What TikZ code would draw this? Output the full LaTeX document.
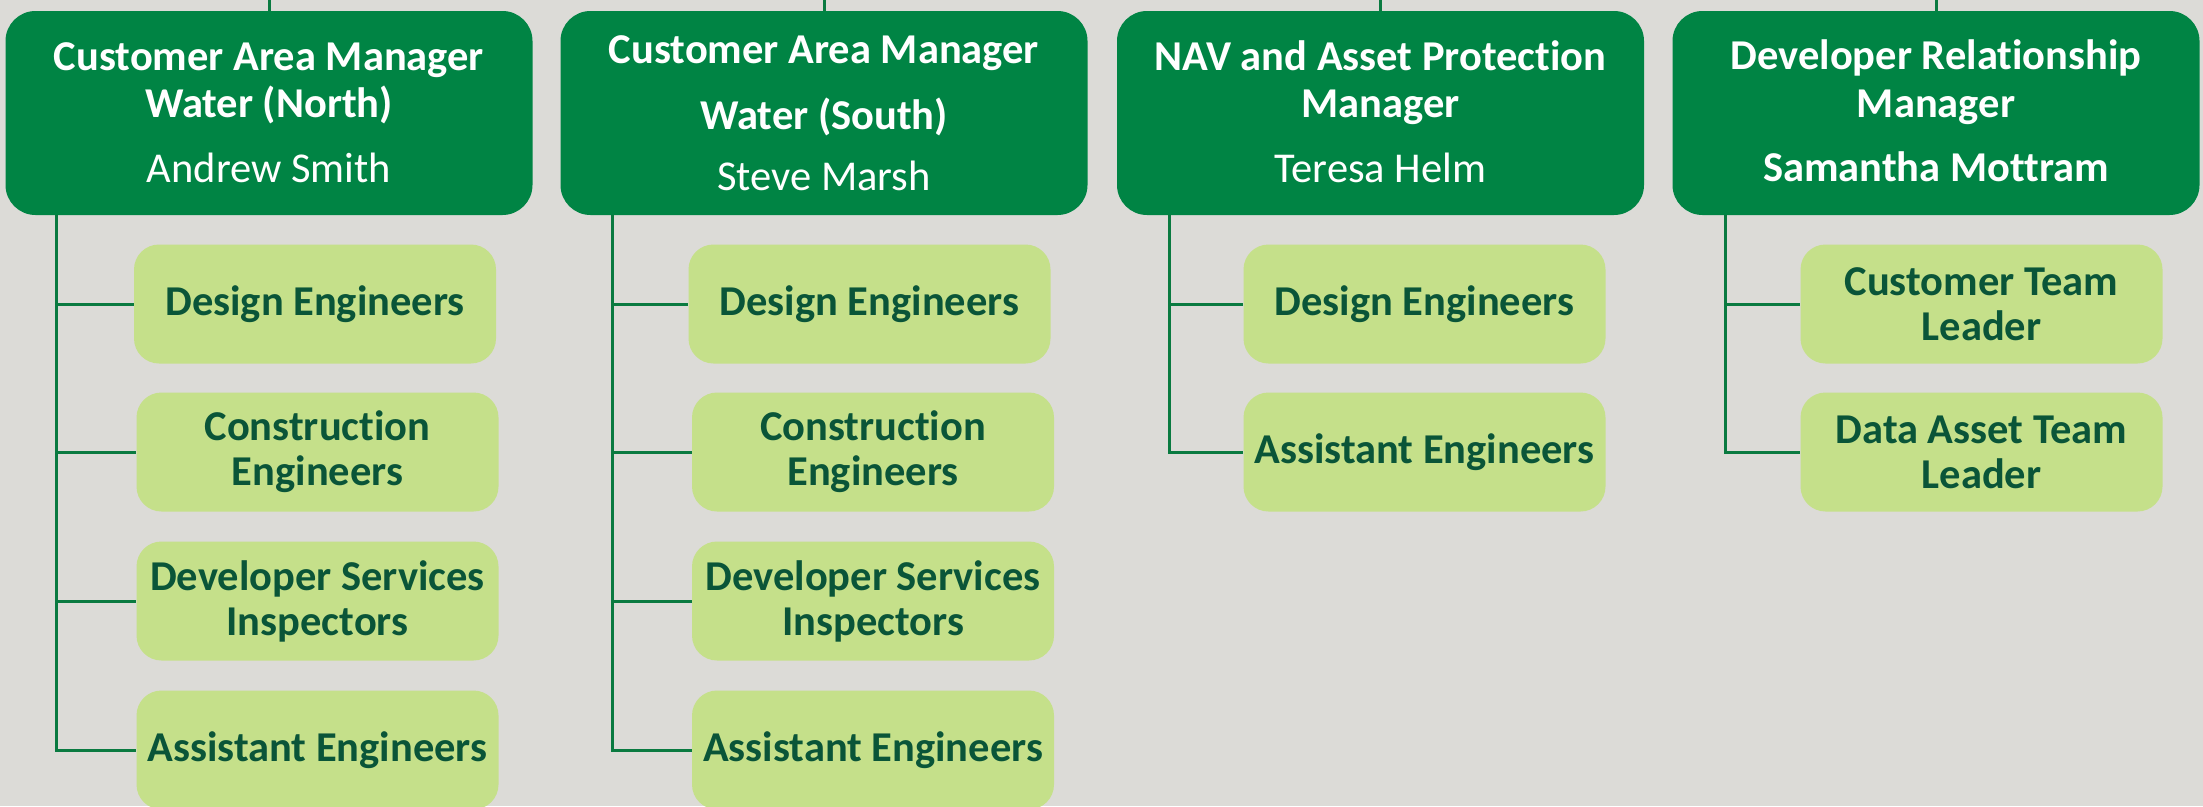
\documentclass[tikz,border=0pt]{standalone}
\usepackage{fontspec}
\setmainfont[Ligatures={NoCommon}]{Carlito}
\definecolor{bg}{HTML}{DCDBD7}
\definecolor{mgr}{HTML}{008444}
\definecolor{sub}{HTML}{C5E08A}
\definecolor{subtxt}{HTML}{0A5538}
\definecolor{ln}{HTML}{0A7A40}
\tikzset{
  mgrbox/.style={rectangle, rounded corners=30pt, fill=mgr, minimum width=527pt, minimum height=204pt, inner sep=0pt},
  mgrtxt/.style={anchor=base, text=white, font=\fontsize{42.5}{46}\selectfont\bfseries, inner sep=0pt},
  mgrname/.style={anchor=base, text=white, font=\fontsize{42.5}{46}\selectfont, inner sep=0pt},
  subbox/.style={rectangle, rounded corners=25pt, fill=sub, minimum width=362pt, minimum height=119pt, inner sep=0pt, align=center, text=subtxt, font=\fontsize{42.5}{45}\selectfont\bfseries},
  conn/.style={draw=ln, line width=3pt},
}
\begin{document}
\begin{tikzpicture}[x=1pt,y=-1pt]
\fill[bg] (0,0) rectangle (2203,806);
\useasboundingbox (0,0) rectangle (2203,806);
% managers
\node[mgrbox] (m1) at (269,113) {};
\node[mgrbox] (m2) at (824,113) {};
\node[mgrbox] (m3) at (1380.5,113) {};
\node[mgrbox] (m4) at (1936,113) {};
\node[mgrtxt] (m1a) at (269,70) {Customer Area Manager};
\node[mgrtxt] (m1b) at (269,117) {Water (North)};
\node[mgrname] (m1c) at (269,182) {Andrew Smith};
\node[mgrtxt] (m2a) at (824,63) {Customer Area Manager};
\node[mgrtxt] (m2b) at (824,129) {Water (South)};
\node[mgrname] (m2c) at (824,190) {Steve Marsh};
\node[mgrtxt] (m3a) at (1380.5,70) {NAV and Asset Protection};
\node[mgrtxt] (m3b) at (1380.5,117) {Manager};
\node[mgrname] (m3c) at (1380.5,182) {Teresa Helm};
\node[mgrtxt] (m4a) at (1936,69) {Developer Relationship};
\node[mgrtxt] (m4b) at (1936,117) {Manager};
\node[mgrtxt] (m4c) at (1936,181) {Samantha Mottram};
% top connectors
\coordinate (t1) at (269,0);
\coordinate (t2) at (824,0);
\coordinate (t3) at (1380.5,0);
\coordinate (t4) at (1936,0);
\foreach \i in {1,2,3,4} \draw[conn] (t\i) -- (m\i.north);
% children column 1
\node[subbox] (c11) at (315,304) {Design Engineers};
\node[subbox] (c12) at (317.5,452) {Construction\\Engineers};
\node[subbox] (c13) at (317.5,601) {Developer Services\\Inspectors};
\node[subbox] (c14) at (317.5,750) {Assistant Engineers};
% column 2
\node[subbox] (c21) at (869.5,304) {Design Engineers};
\node[subbox] (c22) at (873,452) {Construction\\Engineers};
\node[subbox] (c23) at (873,601) {Developer Services\\Inspectors};
\node[subbox] (c24) at (873,750) {Assistant Engineers};
% column 3
\node[subbox] (c31) at (1424.5,304) {Design Engineers};
\node[subbox] (c32) at (1424.5,452) {Assistant Engineers};
% column 4
\node[subbox] (c41) at (1981.5,304) {Customer Team\\Leader};
\node[subbox] (c42) at (1981.5,452) {Data Asset Team\\Leader};
% spines
\coordinate (s1) at (56,215);
\coordinate (s2) at (612.5,215);
\coordinate (s3) at (1169,215);
\coordinate (s4) at (1725,215);
\draw[conn] (s1) |- (c14.west);
\foreach \j in {1,2,3} \draw[conn] (s1 |- c1\j.west) -- (c1\j.west);
\draw[conn] (s2) |- (c24.west);
\foreach \j in {1,2,3} \draw[conn] (s2 |- c2\j.west) -- (c2\j.west);
\draw[conn] (s3) |- (c32.west);
\draw[conn] (s3 |- c31.west) -- (c31.west);
\draw[conn] (s4) |- (c42.west);
\draw[conn] (s4 |- c41.west) -- (c41.west);
\end{tikzpicture}
\end{document}
